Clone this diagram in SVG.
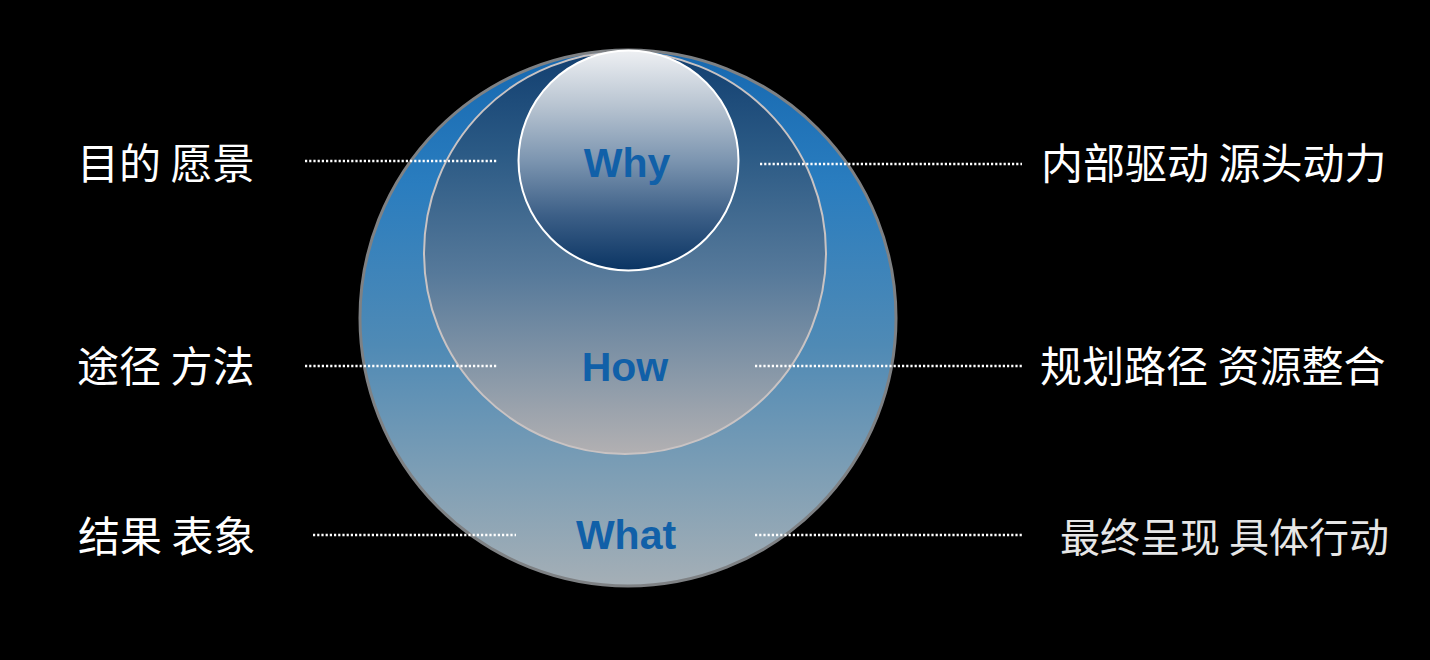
<svg xmlns="http://www.w3.org/2000/svg" width="1430" height="660" viewBox="0 0 1430 660">
<defs>
<linearGradient id="gOuter" x1="0" y1="0" x2="0" y2="1">
<stop offset="0" stop-color="#1668b0"/>
<stop offset="0.25" stop-color="#2a7dbf"/>
<stop offset="0.55" stop-color="#4f8ab5"/>
<stop offset="0.8" stop-color="#7f9fb5"/>
<stop offset="1" stop-color="#a5afb6"/>
</linearGradient>
<linearGradient id="gMid" x1="0" y1="0" x2="0" y2="1">
<stop offset="0" stop-color="#123f70"/>
<stop offset="0.25" stop-color="#2b5a85"/>
<stop offset="0.55" stop-color="#56799a"/>
<stop offset="0.8" stop-color="#8898a8"/>
<stop offset="1" stop-color="#b2b0b2"/>
</linearGradient>
<linearGradient id="gWhy" x1="0" y1="0" x2="0" y2="1">
<stop offset="0" stop-color="#eef0f3"/>
<stop offset="0.25" stop-color="#b8c4d1"/>
<stop offset="0.5" stop-color="#7c95b0"/>
<stop offset="0.75" stop-color="#3c5f87"/>
<stop offset="1" stop-color="#0a3463"/>
</linearGradient>
</defs>
<style>
.lbl{font-family:"Noto Sans CJK SC","Noto Sans",sans-serif;font-size:42px;fill:#ffffff;}
.word{font-family:"Liberation Sans","Open Sans",sans-serif;font-weight:bold;font-size:41px;fill:#1160a8;text-anchor:middle;}
.dot{stroke:#ffffff;stroke-width:2.5;stroke-dasharray:2.2 2;fill:none;}
</style>
<rect x="0" y="0" width="1430" height="660" fill="#000000"/>
<g id="what">
<circle cx="628" cy="318" r="268" fill="url(#gOuter)" stroke="#7e8184" stroke-width="3"/>
<text class="word" x="626" y="549">What</text>
</g>
<g id="how">
<circle cx="625" cy="253" r="201" fill="url(#gMid)" stroke="#c9c3c3" stroke-width="2"/>
<text class="word" x="625" y="381">How</text>
</g>
<g id="why">
<circle cx="628.5" cy="160.5" r="110" fill="url(#gWhy)" stroke="#ffffff" stroke-width="2"/>
<text class="word" x="627" y="177">Why</text>
</g>
<g id="connectors">
<line class="dot" x1="305" y1="161" x2="497" y2="161"/>
<line class="dot" x1="760" y1="164" x2="1022" y2="164"/>
<line class="dot" x1="305" y1="366" x2="498" y2="366"/>
<line class="dot" x1="755" y1="366" x2="1022" y2="366"/>
<line class="dot" x1="313" y1="535" x2="516" y2="535"/>
<line class="dot" x1="755" y1="535" x2="1022" y2="535"/>
</g>
<g id="labels-left">
<text class="lbl" x="77" y="179">目的 愿景</text>
<text class="lbl" x="77" y="382">途径 方法</text>
<text class="lbl" x="78" y="552">结果 表象</text>
</g>
<g id="labels-right">
<text class="lbl" x="1041" y="179">内部驱动 源头动力</text>
<text class="lbl" x="1040" y="382">规划路径 资源整合</text>
<text class="lbl" x="1060" y="552" style="font-size:40px;fill:#e6e6e6">最终呈现 具体行动</text>
</g>
</svg>
